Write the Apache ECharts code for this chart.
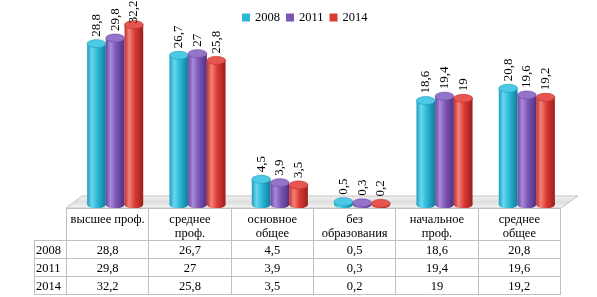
<!DOCTYPE html>
<html><head><meta charset="utf-8">
<script src="https://cdn.jsdelivr.net/npm/echarts@6/dist/echarts.min.js"></script>
<style>
html,body{margin:0;padding:0;background:#fff;}
#wrap{position:relative;width:597px;height:297px;overflow:hidden;}
#chart{position:absolute;left:0;top:0;width:597px;height:297px;}
#tbl{position:absolute;left:34px;top:208px;border-collapse:collapse;table-layout:fixed;font-family:"Liberation Serif",serif;font-size:12.5px;color:#000;}
#tbl td{border:1px solid #bfbfbf;padding:0;text-align:center;line-height:14px;height:17px;white-space:pre-line;}
#tbl tr.h td{height:31px;vertical-align:top;padding-top:3px;box-sizing:border-box;}
#tbl td.y{text-align:left;padding-left:1px;}
#tbl td.e{border:none;}
</style></head>
<body><div id="wrap"><div id="chart"></div><table id="tbl"></table></div>
<script>
const categories = ['высшее проф.', 'среднее\nпроф.', 'основное\nобщее', 'без\nобразования', 'начальное\nпроф.', 'среднее\nобщее'];
const years = ['2008', '2011', '2014'];
const v2008 = [28.8, 26.7, 4.5, 0.5, 18.6, 20.8];
const v2011 = [29.8, 27, 3.9, 0.3, 19.4, 19.6];
const v2014 = [32.2, 25.8, 3.5, 0.2, 19, 19.2];
const seriesValues = [v2008, v2011, v2014];

const fmt = v => String(v).replace('.', ',');

const palettes = [
  {base:'#2bb8d8', stops:['#1b9fbf','#6ad6ee','#2bb8d8','#0f7d99'], top:'#4cc9e5', topStroke:'#1a9dbc'},
  {base:'#7d57b6', stops:['#6a46a1','#a88ad9','#7d57b6','#4f3181'], top:'#9474c8', topStroke:'#6a46a1'},
  {base:'#d93b35', stops:['#c22f2b','#f2827a','#d93b35','#9b1e1b'], top:'#e6564f', topStroke:'#b82a26'}
];

// table
const tbl = document.getElementById('tbl');
let html = '<colgroup><col style="width:32px">' + categories.map(()=> '<col style="width:82.33px">').join('') + '</colgroup>';
html += '<tr class="h"><td class="e"></td>' + categories.map(c => '<td>' + c + '</td>').join('') + '</tr>';
years.forEach((y, k) => {
  html += '<tr><td class="y">' + y + '</td>' + seriesValues[k].map(v => '<td>' + fmt(v) + '</td>').join('') + '</tr>';
});
tbl.innerHTML = html;

const LABEL_FONT = '13px "Liberation Serif", serif';
const ctx = document.createElement('canvas').getContext('2d');
ctx.font = LABEL_FONT;
const textW = s => ctx.measureText(s).width;

const chart = echarts.init(document.getElementById('chart'), null, {renderer:'canvas'});
const BW = 18.7, RY = 4;

function makeRender(k) {
  const p = palettes[k];
  return function (params, api) {
    const idx = api.value(0), val = api.value(1);
    const top = api.coord([idx, val]);
    const base = api.coord([idx, 0]);
    const cx = top[0] + (k - 1) * BW;
    const grad = {type:'linear', x:0, y:0, x2:1, y2:0, colorStops:[
      {offset:0, color:p.stops[0]}, {offset:0.25, color:p.stops[1]},
      {offset:0.55, color:p.stops[2]}, {offset:1, color:p.stops[3]}]};
    const txt = fmt(val);
    const ly = Math.max(top[1] - RY - 3, textW(txt) + 0.5);
    return {
      type:'group',
      children:[
        {type:'ellipse', shape:{cx:cx, cy:base[1], rx:BW/2, ry:RY}, style:{fill:grad}},
        {type:'rect', shape:{x:cx - BW/2, y:top[1], width:BW, height:Math.max(0, base[1]-top[1])}, style:{fill:grad}},
        {type:'ellipse', shape:{cx:cx, cy:top[1], rx:BW/2, ry:RY}, style:{fill:p.top, stroke:p.topStroke, lineWidth:0.6}},
        {type:'text', x:cx, y:ly, rotation:Math.PI/2,
          style:{text:txt, align:'left', verticalAlign:'middle', fill:'#000', font:LABEL_FONT}}
      ]
    };
  };
}

const series = years.map((y, k) => ({
  type:'custom', name:y,
  itemStyle:{color:palettes[k].base},
  data: seriesValues[k].map((v, i) => [i, v]),
  renderItem: makeRender(k),
  z: 5
}));

chart.setOption({
  animation:false,
  grid:{left:74, right:29, top:9, bottom:92.5},
  xAxis:{type:'category', data:categories, show:false},
  yAxis:{type:'value', min:0, max:35, show:false},
  legend:{data:years, top:6, left:237, icon:'rect', itemWidth:8, itemHeight:8, itemGap:6,
    textStyle:{fontFamily:'"Liberation Serif", serif', fontSize:12.5, color:'#000'}},
  graphic:[
    {type:'polygon', z:-10, shape:{points:[[66,208],[82,196],[578,196],[561,208]]},
      style:{fill:{type:'linear', x:0, y:0, x2:0, y2:1, colorStops:[{offset:0,color:'#f4f4f4'},{offset:0.5,color:'#dedede'},{offset:1,color:'#f7f7f7'}]}, stroke:'#c4c4c4', lineWidth:1}}
  ],
  series: series
});
</script></body></html>
